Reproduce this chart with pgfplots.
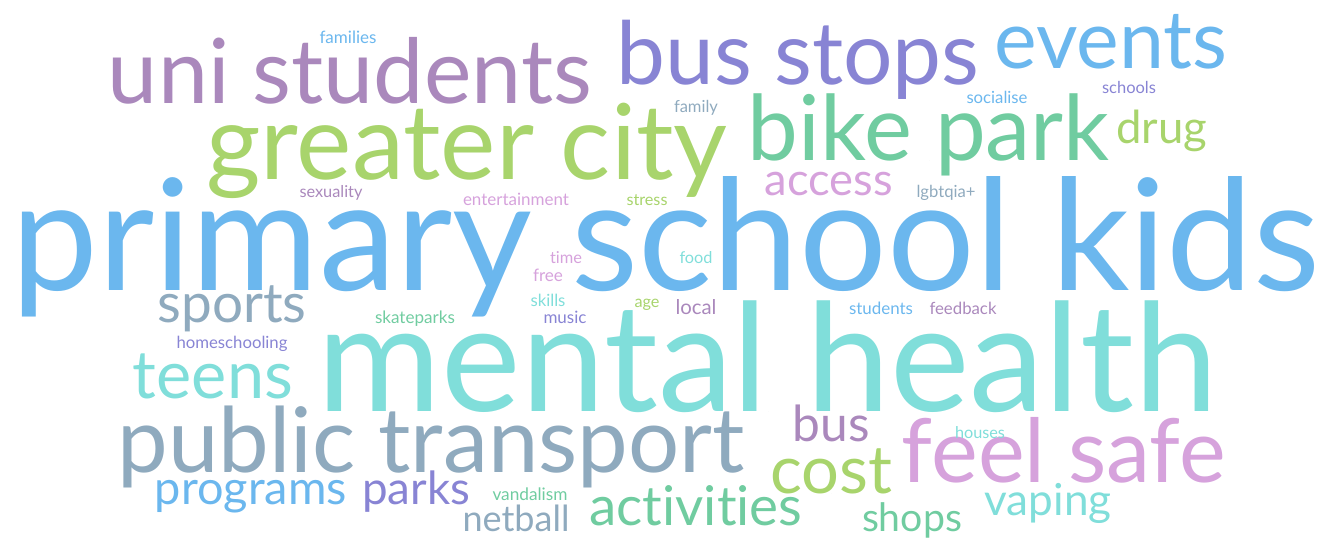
\documentclass[border=0pt]{standalone}
\usepackage{fontspec}
\setmainfont{Lato}[Ligatures={NoCommon,NoRequired,NoContextual}]
\usepackage{graphicx}
\usepackage{pgfplots}
\pgfplotsset{compat=1.18}
\definecolor{cblue}{RGB}{107,183,238}
\definecolor{cteal}{RGB}{128,222,218}
\definecolor{cpurple}{RGB}{170,136,188}
\definecolor{cviolet}{RGB}{136,132,212}
\definecolor{cgreen}{RGB}{168,212,108}
\definecolor{cmint}{RGB}{112,204,160}
\definecolor{cgray}{RGB}{143,170,190}
\definecolor{cpink}{RGB}{214,162,220}
% \word{center x}{baseline y}{width}{colour}{text}
\newcommand{\word}[5]{%
  \addplot[only marks, mark=*, mark size=0pt, mark options={draw=none,fill=none},
    nodes near coords={\resizebox{#3pt}{!}{\fontsize{20}{20}\selectfont #5}},
    every node near coord/.append style={anchor=base, inner sep=0pt, text=#4}]
    coordinates {(#1,#2)};%
}
\begin{document}
\begin{tikzpicture}
\begin{axis}[scale only axis, width=1333pt, height=538pt,
  xmin=0, xmax=1333, ymin=0, ymax=538, y dir=reverse,
  hide axis, clip=false]
\word{666}{290}{1308}{cblue}{primary school kids}
\word{768}{411}{900}{cteal}{mental health}
\word{350}{103}{484}{cpurple}{uni students}
\word{798}{84}{363}{cviolet}{bus stops}
\word{1111}{68}{233}{cblue}{events}
\word{467}{179}{521}{cgreen}{greater city}
\word{929}{160}{362}{cmint}{bike park}
\word{1162}{143}{91}{cgreen}{drug}
\word{829}{195}{128}{cpink}{access}
\word{232}{322}{149}{cgray}{sports}
\word{213}{398}{160}{cteal}{teens}
\word{431}{472}{627}{cgray}{public transport}
\word{251}{504}{192}{cblue}{programs}
\word{416}{504}{108}{cviolet}{parks}
\word{516}{531}{107}{cgray}{netball}
\word{696}{525}{213}{cmint}{activities}
\word{831}{441}{77}{cpurple}{bus}
\word{831}{493}{122}{cgreen}{cost}
\word{1064}{482}{324}{cpink}{feel safe}
\word{1048}{515}{127}{cteal}{vaping}
\word{912}{531}{100}{cmint}{shops}
\word{530}{500}{75}{cmint}{vandalism}
\word{980}{438}{50}{cteal}{houses}
\word{331}{197}{63}{cpurple}{sexuality}
\word{516}{205}{106}{cpink}{entertainment}
\word{647}{205}{41}{cgreen}{stress}
\word{566}{263}{32}{cpink}{time}
\word{548}{281}{30}{cpink}{free}
\word{696}{263}{33}{cteal}{food}
\word{548}{306}{35}{cteal}{skills}
\word{647}{307}{25}{cgreen}{age}
\word{696}{314}{41}{cpurple}{local}
\word{415}{323}{80}{cmint}{skateparks}
\word{565}{323}{43}{cviolet}{music}
\word{232}{348}{111}{cviolet}{homeschooling}
\word{348}{43}{57}{cblue}{families}
\word{696}{112}{44}{cgray}{family}
\word{997}{103}{61}{cblue}{socialise}
\word{1129}{93}{54}{cviolet}{schools}
\word{946}{197}{59}{cgray}{lgbtqia+}
\word{881}{314}{64}{cblue}{students}
\word{963}{314}{67}{cpurple}{feedback}
\end{axis}
\pgfresetboundingbox
\path[use as bounding box] (current axis.south west) rectangle (current axis.north east);
\end{tikzpicture}
\end{document}
